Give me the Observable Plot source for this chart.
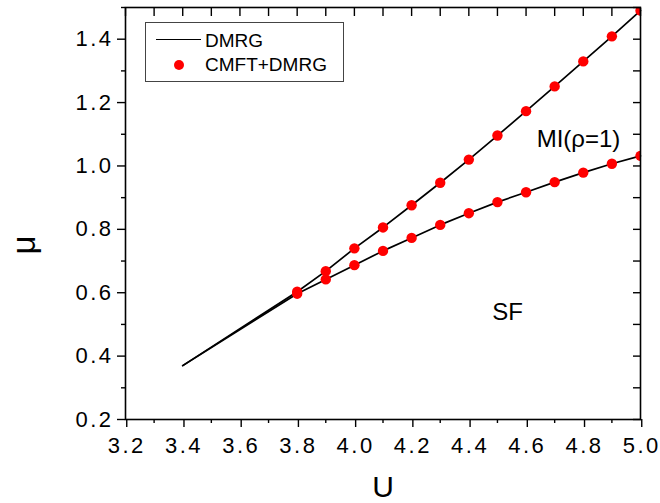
<!DOCTYPE html>
<html><head><meta charset="utf-8">
<script src="https://cdn.jsdelivr.net/npm/d3@7"></script>
<script src="https://cdn.jsdelivr.net/npm/@observablehq/plot@0.6"></script>
<style>
body{margin:0;background:#fff;}
#wrap{position:relative;width:660px;height:503px;font-family:"Liberation Sans",Arial,sans-serif;color:#000;}
#wrap svg{display:block;}
#wrap svg [aria-label$="tick label"]{font-size:22px;fill:#000;letter-spacing:2.5px;}
#wrap svg [aria-label$="tick"]{stroke:#000;}
.lg{position:absolute;}
</style></head><body><div id="wrap"></div>
<script>
// CMFT+DMRG points
const U = [3.8, 3.9, 4.0, 4.1, 4.2, 4.3, 4.4, 4.5, 4.6, 4.7, 4.8, 4.9, 5.0];
const muUpper = [0.603, 0.668, 0.740, 0.806, 0.876, 0.947, 1.020, 1.096, 1.173, 1.251, 1.330, 1.409, 1.490];
const muLower = [0.597, 0.642, 0.687, 0.732, 0.773, 0.814, 0.851, 0.886, 0.917, 0.949, 0.979, 1.007, 1.032];
// DMRG lines (start at common point U=3.4)
const dmrgU = [3.4, 3.8, 3.9, 4.0, 4.1, 4.2, 4.3, 4.4, 4.5, 4.6, 4.7, 4.8, 4.9, 5.0];
const dmrgUpper = [0.370, 0.603, 0.668, 0.740, 0.806, 0.876, 0.947, 1.020, 1.096, 1.173, 1.251, 1.330, 1.409, 1.490];
const dmrgLower = [0.370, 0.597, 0.642, 0.687, 0.732, 0.773, 0.814, 0.851, 0.886, 0.917, 0.949, 0.979, 1.007, 1.032];
// ticks
const xMajor = [3.2, 3.4, 3.6, 3.8, 4.0, 4.2, 4.4, 4.6, 4.8, 5.0];
const xMinor = [3.3, 3.5, 3.7, 3.9, 4.1, 4.3, 4.5, 4.7, 4.9];
const yMajor = [0.2, 0.4, 0.6, 0.8, 1.0, 1.2, 1.4];
const yMinor = [0.3, 0.5, 0.7, 0.9, 1.1, 1.3, 1.5];
// labels
const xLabel = "U";
const yLabel = "μ";
const miLabel = [{U: 4.637, mu: 1.059, text: "MI(ρ=1)"}];
const sfLabel = [{U: 4.535, mu: 0.5145, text: "SF"}];
const legendItems = ["DMRG", "CMFT+DMRG"];

const font = '"Liberation Sans", Arial, sans-serif';
const upper = U.map((u, i) => ({U: u, mu: muUpper[i]}));
const lower = U.map((u, i) => ({U: u, mu: muLower[i]}));
const lineUp = dmrgU.map((u, i) => ({U: u, mu: dmrgUpper[i]}));
const lineLo = dmrgU.map((u, i) => ({U: u, mu: dmrgLower[i]}));
const fmt = d3.format(".1f");
const blank = () => "";

const plot = Plot.plot({
  width: 660, height: 503,
  marginLeft: 125, marginRight: 20, marginTop: 7, marginBottom: 84,
  x: {domain: [3.2, 5.0]},
  y: {domain: [0.2, 1.5]},
  style: {fontFamily: font, fontSize: "22px", color: "#000", background: "#fff"},
  marks: [
    Plot.line(lineUp, {x: "U", y: "mu", stroke: "#000", strokeWidth: 1.7}),
    Plot.line(lineLo, {x: "U", y: "mu", stroke: "#000", strokeWidth: 1.7}),
    Plot.dot(upper, {x: "U", y: "mu", r: 5.2, fill: "#ff0000", stroke: "none", clip: true}),
    Plot.dot(lower, {x: "U", y: "mu", r: 5.2, fill: "#ff0000", stroke: "none", clip: true}),
    Plot.axisX(xMajor, {tickSize: 8, tickPadding: 10, tickFormat: fmt, label: null, strokeWidth: 1.4, dx: 1.25}),
    Plot.axisX(xMinor, {tickSize: 4, tickFormat: blank, label: null, strokeWidth: 1.4}),
    Plot.axisX([...xMajor, ...xMinor], {anchor: "top", tickSize: 8, dy: 8, tickFormat: blank, label: null, strokeWidth: 1.4}),
    Plot.axisY(yMajor, {tickSize: 8, tickPadding: 4, tickFormat: fmt, label: null, strokeWidth: 1.4}),
    Plot.axisY(yMinor, {tickSize: 4, tickFormat: blank, label: null, strokeWidth: 1.4}),
    Plot.axisY([...yMajor, ...yMinor], {anchor: "right", tickSize: 8, dx: -8, tickFormat: blank, label: null, strokeWidth: 1.4}),
    Plot.frame({stroke: "#000", strokeWidth: 1.6}),
    Plot.text(miLabel, {x: "U", y: "mu", text: "text", textAnchor: "start", lineAnchor: "bottom", fontSize: 24, fill: "#000"}),
    Plot.text(sfLabel, {x: "U", y: "mu", text: "text", textAnchor: "middle", lineAnchor: "bottom", fontSize: 24, fill: "#000"}),
    Plot.text([xLabel], {frameAnchor: "bottom", text: d => d, lineAnchor: "bottom", dy: 77, fontSize: 30, fill: "#000"}),
    Plot.text([yLabel], {frameAnchor: "left", text: d => d, rotate: -90, lineAnchor: "middle", dx: -101, dy: 41, fontSize: 33, fill: "#000"})
  ]
});
const wrap = document.getElementById("wrap");
wrap.appendChild(plot);

// legend overlay
const box = document.createElement("div");
box.className = "lg";
Object.assign(box.style, {left: "145px", top: "22px", width: "199px", height: "60px", border: "1px solid #444", boxSizing: "border-box", background: "#fff"});
wrap.appendChild(box);
const ln = document.createElement("div");
ln.className = "lg";
Object.assign(ln.style, {left: "156px", top: "39px", width: "45px", height: "0", borderTop: "1.7px solid #000"});
wrap.appendChild(ln);
const dt = document.createElement("div");
dt.className = "lg";
Object.assign(dt.style, {left: "174px", top: "60px", width: "10px", height: "10px", borderRadius: "50%", background: "#ff0000"});
wrap.appendChild(dt);
legendItems.forEach((t, i) => {
  const s = document.createElement("div");
  s.className = "lg";
  s.textContent = t;
  Object.assign(s.style, {left: "205px", top: (i === 0 ? 31 : 55) + "px", fontSize: "19px", lineHeight: "19px", whiteSpace: "nowrap"});
  wrap.appendChild(s);
});
</script>
</body></html>
